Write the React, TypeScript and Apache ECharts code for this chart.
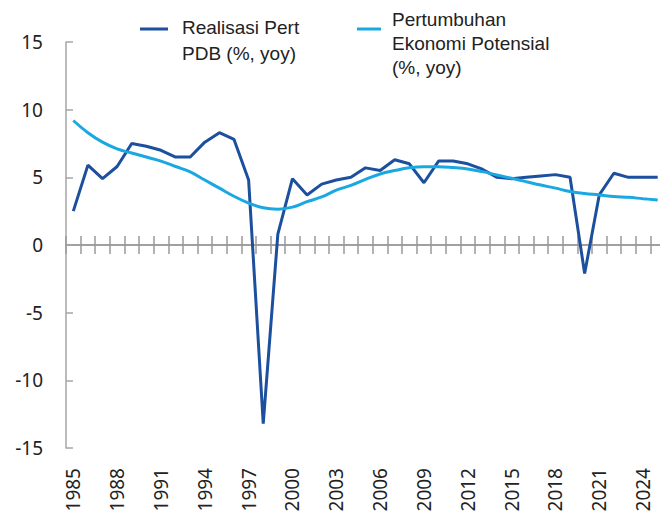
import React, { useEffect, useRef } from "react";
import * as echarts from "echarts";

const years: string[] = [];
for (let y = 1985; y <= 2025; y++) years.push(String(y));

const actualName = "Realisasi Pert PDB (%, yoy)";
const potentialName = "Pertumbuhan Ekonomi Potensial (%, yoy)";
const actualLegend = "Realisasi Pert\nPDB (%, yoy)";
const potentialLegend = "Pertumbuhan\nEkonomi Potensial\n(%, yoy)";

const actualGrowth = [
  2.5, 5.9, 4.9, 5.8, 7.5, 7.3, 7.0, 6.5, 6.5, 7.6,
  8.3, 7.8, 4.8, -13.2, 0.8, 4.9, 3.7, 4.5, 4.8, 5.0,
  5.7, 5.5, 6.3, 6.0, 4.6, 6.2, 6.2, 6.0, 5.6, 5.0,
  4.9, 5.0, 5.1, 5.2, 5.0, -2.1, 3.7, 5.3, 5.0, 5.0,
  5.0,
];

const potentialGrowth = [
  9.2, 8.3, 7.6, 7.1, 6.8, 6.5, 6.2, 5.8, 5.4, 4.8,
  4.2, 3.6, 3.1, 2.75, 2.65, 2.8, 3.2, 3.55, 4.05, 4.4,
  4.85, 5.25, 5.5, 5.7, 5.78, 5.78, 5.72, 5.62, 5.42, 5.17,
  4.93, 4.68, 4.43, 4.2, 3.95, 3.8, 3.7, 3.58, 3.52, 3.42,
  3.33,
];

const darkBlue = "#1c4f9e";
const lightBlue = "#1aa8e2";

export default function App() {
  const ref = useRef<HTMLDivElement>(null);
  useEffect(() => {
    if (!ref.current) return;
    const chart = echarts.init(ref.current, null, { renderer: "svg" });
    const axisGray = "#9a9a9a";
    const legendFont = {
      fontFamily: "Liberation Sans",
      fontSize: 19,
      fill: "#222",
    };
    const zeroAxis = (position: string) => ({
      type: "category",
      data: years,
      position,
      boundaryGap: true,
      axisLine: {
        show: true,
        onZero: true,
        onZeroAxisIndex: 0,
        lineStyle: { color: axisGray, width: 1.5 },
      },
      axisTick: {
        show: true,
        interval: 0,
        length: 9,
        lineStyle: { color: axisGray, width: 1.5 },
      },
      axisLabel: { show: false },
    });
    chart.setOption({
      animation: false,
      backgroundColor: "#ffffff",
      grid: {
        left: 66,
        right: -5,
        top: 42,
        bottom: 71,
        containLabel: false,
        outerBoundsMode: "none",
      },
      legend: { show: false },
      graphic: [
        {
          type: "rect",
          shape: { x: 140, y: 27.5, width: 28, height: 3 },
          style: { fill: darkBlue },
        },
        {
          type: "text",
          x: 182,
          y: 14,
          style: {
            ...legendFont,
            text: actualLegend,
            lineHeight: 26,
            verticalAlign: "top",
            align: "left",
          },
        },
        {
          type: "rect",
          shape: { x: 357, y: 27.5, width: 24, height: 3 },
          style: { fill: lightBlue },
        },
        {
          type: "text",
          x: 392,
          y: 7,
          style: {
            ...legendFont,
            text: potentialLegend,
            lineHeight: 24,
            verticalAlign: "top",
            align: "left",
          },
        },
      ],
      xAxis: [
        {
          type: "category",
          data: years,
          position: "bottom",
          boundaryGap: true,
          axisLine: { show: false, onZero: false },
          axisTick: { show: false },
          axisLabel: {
            interval: 2,
            rotate: 90,
            margin: 20,
            fontSize: 19,
            fontFamily: "Noto Sans",
            color: "#222",
          },
        },
        zeroAxis("bottom"),
        zeroAxis("top"),
      ],
      yAxis: {
        type: "value",
        min: -15,
        max: 15,
        interval: 5,
        axisLine: { show: true, lineStyle: { color: "#a6a6a6", width: 1.5 } },
        axisTick: {
          show: true,
          inside: true,
          length: 7,
          lineStyle: { color: "#a6a6a6", width: 1.5 },
        },
        splitLine: { show: false },
        axisLabel: {
          margin: 23,
          fontSize: 19,
          fontFamily: "Noto Sans",
          color: "#222",
        },
      },
      series: [
        {
          name: actualName,
          type: "line",
          data: actualGrowth,
          xAxisIndex: 0,
          symbol: "none",
          lineStyle: { color: darkBlue, width: 3 },
          itemStyle: { color: darkBlue },
        },
        {
          name: potentialName,
          type: "line",
          data: potentialGrowth,
          xAxisIndex: 0,
          symbol: "none",
          smooth: 0.4,
          lineStyle: { color: lightBlue, width: 3 },
          itemStyle: { color: lightBlue },
        },
      ],
    });
    return () => chart.dispose();
  }, []);
  return (
    <div
      ref={ref}
      style={{ position: "fixed", left: 0, top: 0, width: 660, height: 519 }}
    />
  );
}
